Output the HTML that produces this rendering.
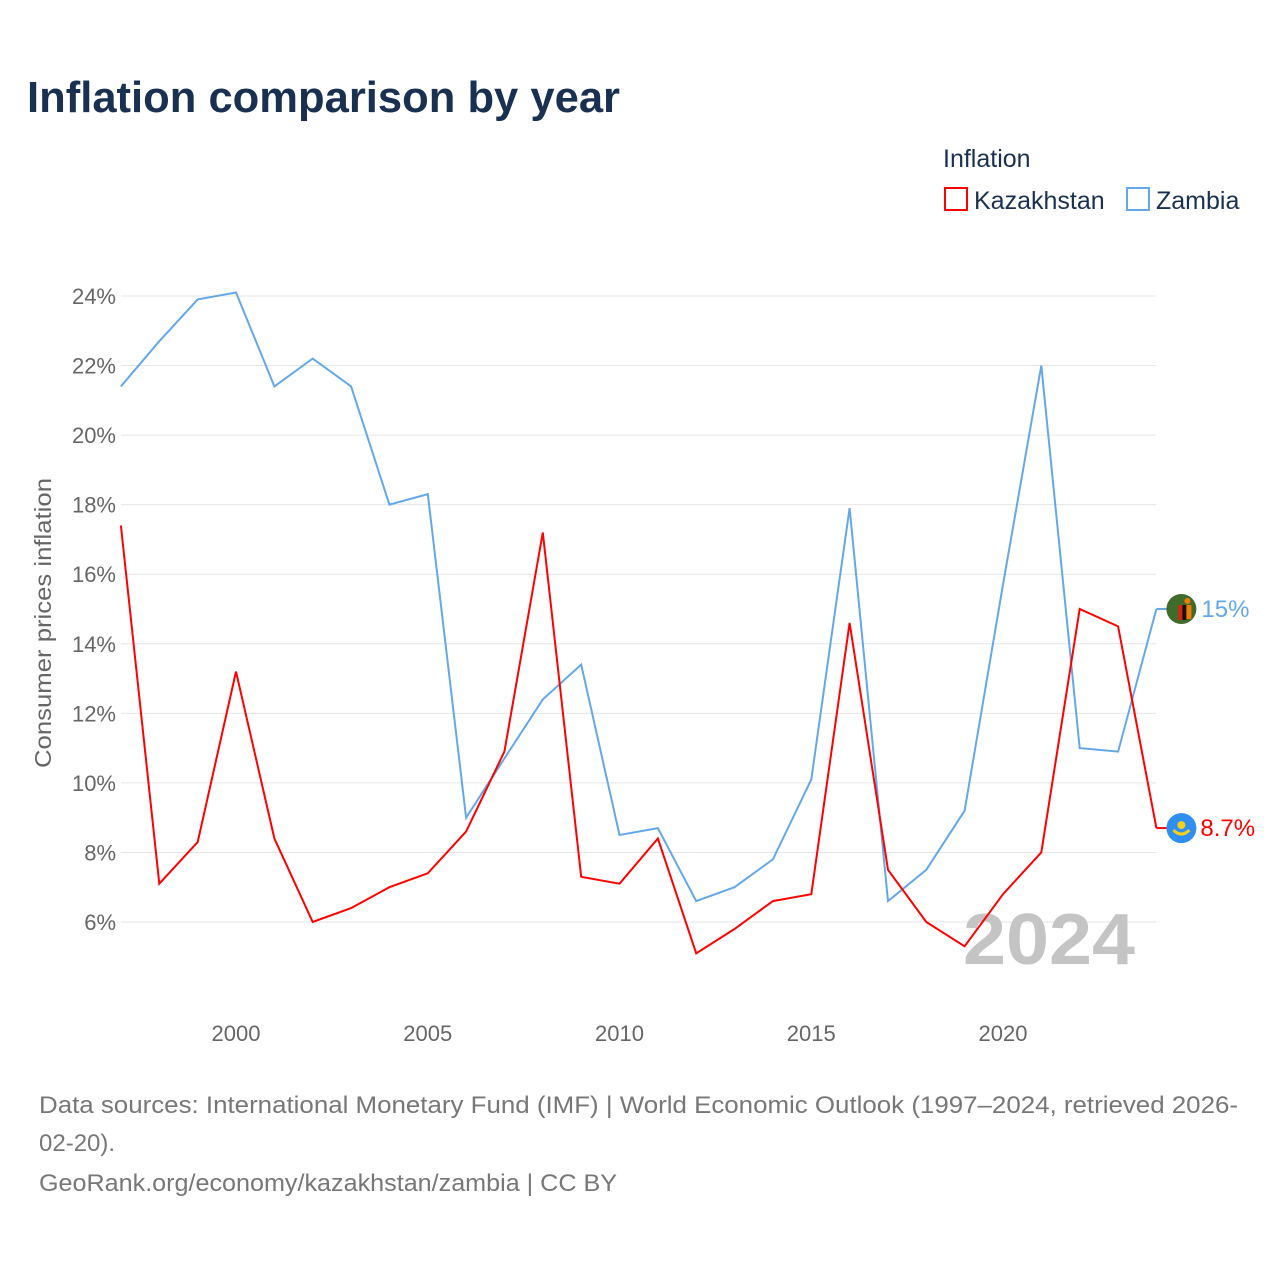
<!DOCTYPE html>
<html><head><meta charset="utf-8"><style>
body{margin:0;background:#fff;font-family:"Liberation Sans",sans-serif}
</style></head><body>
<svg id="c" width="1280" height="1280" xmlns="http://www.w3.org/2000/svg">
<text x="27" y="112" font-size="44" font-weight="bold" fill="#1a3050" textLength="593" lengthAdjust="spacingAndGlyphs">Inflation comparison by year</text>
<g>
<text x="943" y="167" font-size="25" fill="#1a3050">Inflation</text>
<g><rect x="945" y="188" width="22" height="22" fill="none" stroke="#ff0000" stroke-width="2"/><text x="974" y="209" font-size="25" fill="#1a3050">Kazakhstan</text></g>
<g><rect x="1127" y="188" width="22" height="22" fill="none" stroke="#64a8ea" stroke-width="2"/><text x="1156" y="209" font-size="25" fill="#1a3050">Zambia</text></g>
</g>
<text transform="translate(51,623) rotate(-90)" text-anchor="middle" font-size="23" fill="#666" textLength="290" lengthAdjust="spacingAndGlyphs">Consumer prices inflation</text>
<g id="grid"></g>
<g id="yt"></g>
<g id="xt"></g>
<text x="963" y="964" font-size="72" font-weight="bold" fill="#c4c4c4" textLength="172" lengthAdjust="spacingAndGlyphs">2024</text>
<g id="series"></g>
<g font-size="24" fill="#777">
<text x="39" y="1113" textLength="1199" lengthAdjust="spacingAndGlyphs">Data sources: International Monetary Fund (IMF) | World Economic Outlook (1997–2024, retrieved 2026-</text>
<text x="39" y="1151">02-20).</text>
<text x="39" y="1191" textLength="578" lengthAdjust="spacingAndGlyphs">GeoRank.org/economy/kazakhstan/zambia | CC BY</text>
</g>
</svg>
<script>
const years=[1997,1998,1999,2000,2001,2002,2003,2004,2005,2006,2007,2008,2009,2010,2011,2012,2013,2014,2015,2016,2017,2018,2019,2020,2021,2022,2023,2024];
const kazakhstan=[17.4,7.1,8.3,13.2,8.4,6.0,6.4,7.0,7.4,8.6,10.9,17.2,7.3,7.1,8.4,5.1,5.8,6.6,6.8,14.6,7.5,6.0,5.3,6.8,8.0,15.0,14.5,8.7];
const zambia=[21.4,22.7,23.9,24.1,21.4,22.2,21.4,18.0,18.3,9.0,10.7,12.4,13.4,8.5,8.7,6.6,7.0,7.8,10.1,17.9,6.6,7.5,9.2,15.7,22.0,11.0,10.9,15.0];
const yTicks=[6,8,10,12,14,16,18,20,22,24];
const xTicks=[2000,2005,2010,2015,2020];
const NS="http://www.w3.org/2000/svg";
const X=y=>236+(y-2000)*38.35;
const Y=v=>922-(v-6)*34.78;
function mk(t,a,p){const e=document.createElementNS(NS,t);for(const k in a)e.setAttribute(k,a[k]);p.appendChild(e);return e;}
const grid=document.getElementById('grid'),yt=document.getElementById('yt'),xt=document.getElementById('xt'),ser=document.getElementById('series');
yTicks.forEach(v=>{
 const l=mk('line',{x1:121,x2:1156,y1:Y(v),y2:Y(v),stroke:'#e6e6e6','stroke-width':1},grid);
 
 
 const t=mk('text',{x:116,y:Y(v)+8,'text-anchor':'end','font-size':22,fill:'#666'},yt);
 t.textContent=v+'%';
 
 
});
xTicks.forEach(v=>{
 const t=mk('text',{x:X(v),y:1041,'text-anchor':'middle','font-size':22,fill:'#666'},xt);
 t.textContent=v;
 
 
});
function line(vals,col,name){
 const d=vals.map((v,i)=>(i?'L':'M')+X(years[i]).toFixed(1)+' '+Y(v).toFixed(1)).join(' ');
 const p=mk('path',{d:d,fill:'none',stroke:col,'stroke-width':2},ser);
 
 
 const lx=X(years[years.length-1]),ly=Y(vals[vals.length-1]);
 const e=mk('path',{d:`M${lx} ${ly} H${lx+12}`,stroke:col,'stroke-width':2},ser);
 
 
 return [lx+25,ly];
}
const [zx,zy]=line(zambia,'#64a8ea','zambia');
const [kx,ky]=line(kazakhstan,'#ff0000','kazakhstan');
const zf=mk('g',{},ser);


mk('circle',{cx:zx,cy:zy,r:15,fill:'#3f6b2b'},zf);
mk('rect',{x:zx-3,y:zy-4,width:4,height:15,fill:'#de2010'},zf);
mk('rect',{x:zx+1,y:zy-4,width:4,height:15,fill:'#111'},zf);
mk('rect',{x:zx+5,y:zy-4,width:5,height:14,fill:'#ef7d00'},zf);
mk('circle',{cx:zx+6,cy:zy-8,r:3,fill:'#ef7d00'},zf);
const kf=mk('g',{},ser);


mk('circle',{cx:kx,cy:ky,r:15,fill:'#2f8ff0'},kf);
mk('circle',{cx:kx,cy:ky-3,r:4,fill:'#f5d01a'},kf);
mk('path',{d:`M${kx-8} ${ky+2} Q${kx} ${ky+10} ${kx+8} ${ky+2}`,stroke:'#f5d01a','stroke-width':3,fill:'none'},kf);
const zl=mk('text',{x:zx+20,y:zy+8,'font-size':24,fill:'#64a8ea'},ser);
zl.textContent=zambia[zambia.length-1]+'%';


const kl=mk('text',{x:kx+19,y:ky+8,'font-size':24,fill:'#ff0000'},ser);
kl.textContent=kazakhstan[kazakhstan.length-1]+'%';


</script>
</body></html>
